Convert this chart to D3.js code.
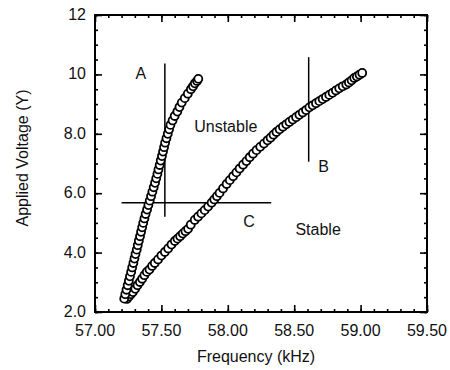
<!DOCTYPE html>
<html>
<head>
<meta charset="utf-8">
<script src="https://cdn.jsdelivr.net/npm/d3@7"></script>
<style>
    body { margin: 0; background: #fff; }
    svg { display: block; font-family: "Liberation Sans", Arial, sans-serif; }
</style>
</head>
<body>
<div id="chart"></div>
<script>
/*
 * Chart data: frequency (kHz) / applied voltage (V) pairs.
 */
var unstableFreq = [
    57.220, 57.228, 57.237, 57.246, 57.255, 57.263, 57.272, 57.280, 57.289, 57.297,
    57.305, 57.314, 57.322, 57.330, 57.339, 57.347, 57.355, 57.363, 57.372, 57.381,
    57.392, 57.402, 57.412, 57.422, 57.432, 57.442, 57.452, 57.461, 57.470, 57.478,
    57.487, 57.495, 57.504, 57.512, 57.520, 57.528, 57.538, 57.548, 57.558, 57.568,
    57.584, 57.600, 57.620, 57.636, 57.653, 57.676, 57.699, 57.722, 57.738, 57.752,
    57.768, 57.778
];
var unstableVolt = [
    2.45, 2.60, 2.75, 2.90, 3.05, 3.20, 3.35, 3.50, 3.65, 3.80,
    3.95, 4.10, 4.25, 4.40, 4.55, 4.70, 4.85, 5.00, 5.15, 5.30,
    5.45, 5.60, 5.75, 5.90, 6.05, 6.20, 6.35, 6.50, 6.65, 6.80,
    6.95, 7.10, 7.25, 7.40, 7.55, 7.70, 7.85, 8.00, 8.15, 8.30,
    8.45, 8.60, 8.75, 8.90, 9.05, 9.20, 9.35, 9.50, 9.60, 9.70,
    9.78, 9.85
];
var stableFreq = [
    57.240, 57.255, 57.270, 57.285, 57.303, 57.320, 57.338, 57.355, 57.372, 57.390,
    57.410, 57.430, 57.450, 57.475, 57.500, 57.526, 57.551, 57.576, 57.601, 57.621,
    57.641, 57.661, 57.681, 57.701, 57.721, 57.751, 57.776, 57.801, 57.826, 57.852,
    57.878, 57.898, 57.918, 57.938, 57.964, 57.991, 58.015, 58.040, 58.065, 58.089,
    58.115, 58.140, 58.165, 58.190, 58.216, 58.244, 58.272, 58.299, 58.322, 58.344,
    58.366, 58.390, 58.415, 58.440, 58.464, 58.489, 58.514, 58.539, 58.564, 58.589,
    58.614, 58.639, 58.664, 58.689, 58.714, 58.739, 58.764, 58.789, 58.814, 58.839,
    58.865, 58.892, 58.912, 58.932, 58.952, 58.972, 58.992, 59.012
];
var stableVolt = [
    2.44, 2.52, 2.60, 2.67, 2.78, 2.90, 3.01, 3.12, 3.24, 3.35,
    3.43, 3.55, 3.65, 3.77, 3.90, 4.02, 4.14, 4.27, 4.39, 4.47,
    4.55, 4.64, 4.72, 4.80, 4.94, 5.10, 5.21, 5.32, 5.43, 5.55,
    5.68, 5.79, 5.90, 6.01, 6.16, 6.31, 6.44, 6.57, 6.70, 6.83,
    6.96, 7.08, 7.21, 7.33, 7.45, 7.56, 7.67, 7.78, 7.87, 7.97,
    8.06, 8.15, 8.24, 8.32, 8.40, 8.48, 8.56, 8.64, 8.72, 8.80,
    8.89, 8.96, 9.03, 9.10, 9.17, 9.24, 9.31, 9.38, 9.46, 9.53,
    9.60, 9.66, 9.73, 9.80, 9.88, 9.93, 9.99, 10.05
];
/*
 * Marker lines A, B and C: [freq1, volt1, freq2, volt2].
 */
var guideLines = [
    [57.526, 10.37, 57.526, 5.21],
    [58.609, 10.58, 58.609, 7.06],
    [57.200, 5.68, 58.327, 5.68]
];
/*
 * Region labels and their anchor (text centre, baseline) in data units.
 */
var labelText = ['A', 'B', 'C', 'Unstable', 'Stable'];
var labelFreq = [57.345, 58.722, 58.160, 57.985, 58.680];
var labelVolt = [9.86, 6.70, 4.86, 8.06, 4.58];
/*
 * Tick values.
 */
var xTicks = [57.0, 57.5, 58.0, 58.5, 59.0, 59.5];
var xTickLabels = ['57.00', '57.50', '58.00', '58.50', '59.00', '59.50'];
var yTicks = [2, 4, 6, 8, 10, 12];
var yTickLabels = ['2.0', '4.0', '6.0', '8.0', '10', '12'];

var margin = {top: 15, right: 23, bottom: 58, left: 95};
var outerWidth = 450, outerHeight = 370;
var width = outerWidth - margin.left - margin.right;
var height = outerHeight - margin.top - margin.bottom;

var x = d3.scaleLinear().domain([57, 59.5]).range([0, width]);
var y = d3.scaleLinear().domain([2, 12]).range([height, 0]);

var svg = d3.select('#chart').append('svg')
    .attr('width', outerWidth)
    .attr('height', outerHeight);

var g = svg.append('g')
    .attr('transform', 'translate(' + margin.left + ',' + margin.top + ')');

/*
 * Minor ticks every 0.1 kHz and 0.5 V, major ticks at the labels.
 */
var xMinor = d3.range(0, 26).map(function(i) { return 57 + i * 0.1; });
var yMinor = d3.range(0, 21).map(function(i) { return 2 + i * 0.5; });

function tickAxis(axis, values, size) {
    return axis.tickValues(values).tickSize(size).tickFormat('');
}

g.append('g').attr('class', 'axis')
    .attr('transform', 'translate(0,' + height + ')')
    .call(tickAxis(d3.axisBottom(x), xMinor, -3));
g.append('g').attr('class', 'axis')
    .attr('transform', 'translate(0,' + height + ')')
    .call(tickAxis(d3.axisBottom(x), xTicks, -7));
g.append('g').attr('class', 'axis')
    .call(tickAxis(d3.axisTop(x), xMinor, -3));
g.append('g').attr('class', 'axis')
    .call(tickAxis(d3.axisTop(x), xTicks, -7));
g.append('g').attr('class', 'axis')
    .call(tickAxis(d3.axisLeft(y), yMinor, -3));
g.append('g').attr('class', 'axis')
    .call(tickAxis(d3.axisLeft(y), yTicks, -7));
g.append('g').attr('class', 'axis')
    .attr('transform', 'translate(' + width + ',0)')
    .call(tickAxis(d3.axisRight(y), yMinor, -3));
g.append('g').attr('class', 'axis')
    .attr('transform', 'translate(' + width + ',0)')
    .call(tickAxis(d3.axisRight(y), yTicks, -7));

g.selectAll('.axis .domain').remove();
g.selectAll('.axis line').attr('stroke', '#000').attr('stroke-width', 1.6);

/*
 * Frame.
 */
g.append('rect')
    .attr('width', width)
    .attr('height', height)
    .attr('fill', 'none')
    .attr('stroke', '#000')
    .attr('stroke-width', 2);

/*
 * Tick labels.
 */
g.selectAll('.x-label')
    .data(xTicks)
    .enter().append('text')
    .attr('x', function(d) { return x(d); })
    .attr('y', height + 24)
    .attr('text-anchor', 'middle')
    .attr('font-size', 16)
    .attr('fill', '#111')
    .text(function(d, i) { return xTickLabels[i]; });

g.selectAll('.y-label')
    .data(yTicks)
    .enter().append('text')
    .attr('x', -9)
    .attr('y', function(d) { return y(d) + 5; })
    .attr('text-anchor', 'end')
    .attr('font-size', 16)
    .attr('fill', '#111')
    .text(function(d, i) { return yTickLabels[i]; });

/*
 * Axis titles.
 */
svg.append('text')
    .attr('x', margin.left + width / 2 - 5)
    .attr('y', 362)
    .attr('text-anchor', 'middle')
    .attr('font-size', 16)
    .attr('fill', '#111')
    .text('Frequency (kHz)');

svg.append('text')
    .attr('transform', 'translate(28,158) rotate(-90)')
    .attr('text-anchor', 'middle')
    .attr('font-size', 16)
    .attr('fill', '#111')
    .text('Applied Voltage (Y)');

/*
 * Guide lines.
 */
g.selectAll('.guide')
    .data(guideLines)
    .enter().append('line')
    .attr('x1', function(d) { return x(d[0]); })
    .attr('y1', function(d) { return y(d[1]); })
    .attr('x2', function(d) { return x(d[2]); })
    .attr('y2', function(d) { return y(d[3]); })
    .attr('stroke', '#000')
    .attr('stroke-width', 1.5);

/*
 * Data markers.
 */
function drawSeries(freq, volt) {
    g.append('g').selectAll('circle')
        .data(freq)
        .enter().append('circle')
        .attr('cx', function(d) { return x(d); })
        .attr('cy', function(d, i) { return y(volt[i]); })
        .attr('r', 4)
        .attr('fill', '#fff')
        .attr('stroke', '#000')
        .attr('stroke-width', 1.8);
}
drawSeries(stableFreq, stableVolt);
drawSeries(unstableFreq, unstableVolt);

/*
 * Region labels.
 */
g.selectAll('.region')
    .data(labelText)
    .enter().append('text')
    .attr('x', function(d, i) { return x(labelFreq[i]); })
    .attr('y', function(d, i) { return y(labelVolt[i]); })
    .attr('text-anchor', 'middle')
    .attr('font-size', 16)
    .attr('fill', '#111')
    .text(function(d) { return d; });
</script>
</body>
</html>
